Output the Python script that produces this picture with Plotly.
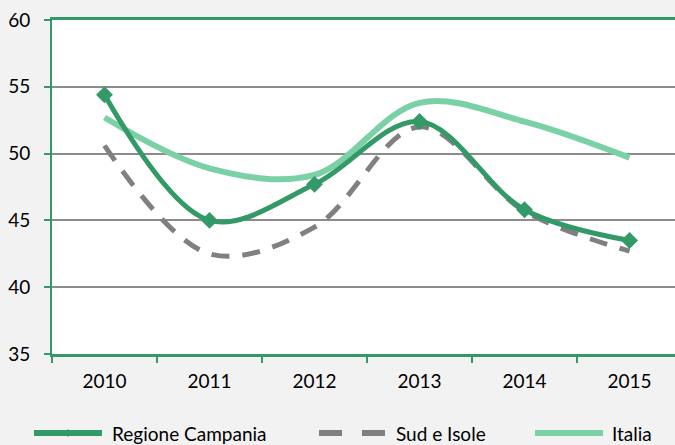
import plotly.graph_objects as go

years = ["2010", "2011", "2012", "2013", "2014", "2015"]
campania = [54.4, 45.0, 47.7, 52.4, 45.8, 43.5]
sud_isole = [50.6, 42.5, 44.5, 52.0, 45.7, 42.7]
italia = [52.7, 48.9, 48.4, 53.8, 52.4, 49.7]

C_CAMP = "#339966"
C_SUD = "#808080"
C_ITA = "#79d1a5"
FONT = "Lato"

fig = go.Figure()
fig.add_trace(go.Scatter(x=years, y=italia, mode="lines", name="Italia",
                         line=dict(color=C_ITA, width=6, shape="spline", smoothing=1)))
fig.add_trace(go.Scatter(x=years, y=sud_isole, mode="lines", name="Sud e Isole",
                         line=dict(color=C_SUD, width=5, shape="spline", smoothing=1, dash="18px,13px")))
fig.add_trace(go.Scatter(x=years, y=campania, mode="lines+markers", name="Regione Campania",
                         line=dict(color=C_CAMP, width=5, shape="spline", smoothing=1),
                         marker=dict(symbol="diamond", size=13, color=C_CAMP)))

L, T, B, W, H = 52, 20, 91, 675, 445
pw = W - L
ph = H - T - B

def px(x):
    return (x - L) / pw

def py(y):
    return (H - B - y) / ph

ly = py(433)
shapes = [
    dict(type="line", xref="paper", yref="paper", x0=px(34), x1=px(102), y0=ly, y1=ly,
         line=dict(color=C_CAMP, width=6)),
    dict(type="path", xref="paper", yref="paper",
         path=f"M {px(68)},{py(429)} L {px(71)},{ly} L {px(68)},{py(437)} L {px(65)},{ly} Z",
         fillcolor=C_CAMP, line=dict(color=C_CAMP, width=0)),
    dict(type="line", xref="paper", yref="paper", x0=px(319), x1=px(342), y0=ly, y1=ly,
         line=dict(color=C_SUD, width=6)),
    dict(type="line", xref="paper", yref="paper", x0=px(362), x1=px(385), y0=ly, y1=ly,
         line=dict(color=C_SUD, width=6)),
    dict(type="line", xref="paper", yref="paper", x0=px(535), x1=px(603), y0=ly, y1=ly,
         line=dict(color=C_ITA, width=6)),
]
annotations = [
    dict(text="Regione Campania", x=px(110), y=ly, xref="paper", yref="paper",
         xanchor="left", yanchor="middle", showarrow=False, font=dict(size=19, color="#000", family=FONT)),
    dict(text="Sud e Isole", x=px(394), y=ly, xref="paper", yref="paper",
         xanchor="left", yanchor="middle", showarrow=False, font=dict(size=19, color="#000", family=FONT)),
    dict(text="Italia", x=px(610), y=ly, xref="paper", yref="paper",
         xanchor="left", yanchor="middle", showarrow=False, font=dict(size=19, color="#000", family=FONT)),
]

fig.update_layout(
    width=W, height=H,
    margin=dict(l=L, r=0, t=T, b=B),
    paper_bgcolor="#f2f2f2",
    plot_bgcolor="#ffffff",
    showlegend=False,
    font=dict(family=FONT, size=19, color="#000000"),
    shapes=shapes,
    annotations=annotations,
    xaxis=dict(type="category", range=[-0.5, 5.433], tickson="boundaries",
               showgrid=False, showline=True, linecolor=C_CAMP, linewidth=3,
               mirror=True, ticks="outside", ticklen=6, tickwidth=2, tickcolor=C_CAMP,
               ticklabelstandoff=8, automargin=False, zeroline=False),
    yaxis=dict(range=[35, 60], dtick=5, tick0=35, showgrid=True, gridcolor="#8c8c8c",
               gridwidth=2, showline=True, linecolor=C_CAMP, linewidth=2,
               ticks="outside", ticklen=6, tickwidth=2, tickcolor=C_CAMP,
               ticklabelstandoff=10, automargin=False, zeroline=False),
)

fig.write_html("out.html", config={"displayModeBar": False},
               post_script="document.body.style.margin='0';document.body.style.overflow='hidden';")
